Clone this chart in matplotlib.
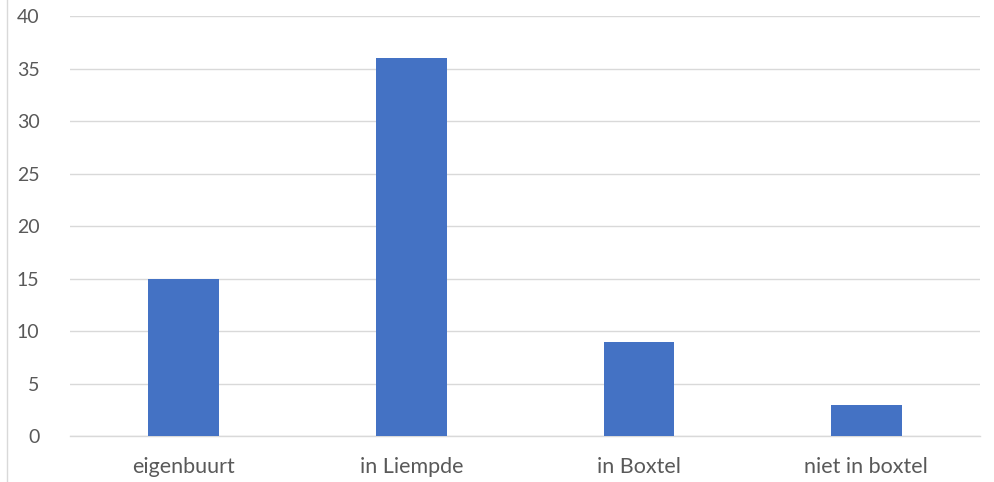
import matplotlib.pyplot as plt
from matplotlib.lines import Line2D

# Data
categories = ['eigenbuurt', 'in Liempde', 'in Boxtel', 'niet in boxtel']
values = [15, 36, 9, 3]
yticks = [0, 5, 10, 15, 20, 25, 30, 35, 40]

plt.rcParams['font.family'] = ['Lato', 'DejaVu Sans']

fig = plt.figure(figsize=(9.94, 4.82), dpi=100)
ax = fig.add_axes([0.0704, 0.0954, 0.9156, 0.8714])

x = list(range(len(categories)))
ax.bar(x, values, width=0.31, color='#4472c4', zorder=3)

ax.set_xlim(-0.5, len(categories) - 0.5)
ax.set_ylim(0, 40)
ax.set_yticks(yticks)
ax.set_xticks(x)
ax.set_xticklabels(categories)

ax.grid(axis='y', color='#d9d9d9', linewidth=1, zorder=0)
for side in ['top', 'right', 'left']:
    ax.spines[side].set_visible(False)
ax.spines['bottom'].set_color('#d9d9d9')
ax.spines['bottom'].set_linewidth(1)

ax.tick_params(axis='both', length=0, colors='#595959')
ax.tick_params(axis='y', labelsize=14, pad=22)
ax.tick_params(axis='x', labelsize=15.5, pad=15)

# thin border line at the left edge of the image
fig.add_artist(Line2D([0.0075, 0.0075], [0.0, 1.0], transform=fig.transFigure,
                      color='#d9d9d9', linewidth=1))

fig.savefig('out.png', dpi=100)
